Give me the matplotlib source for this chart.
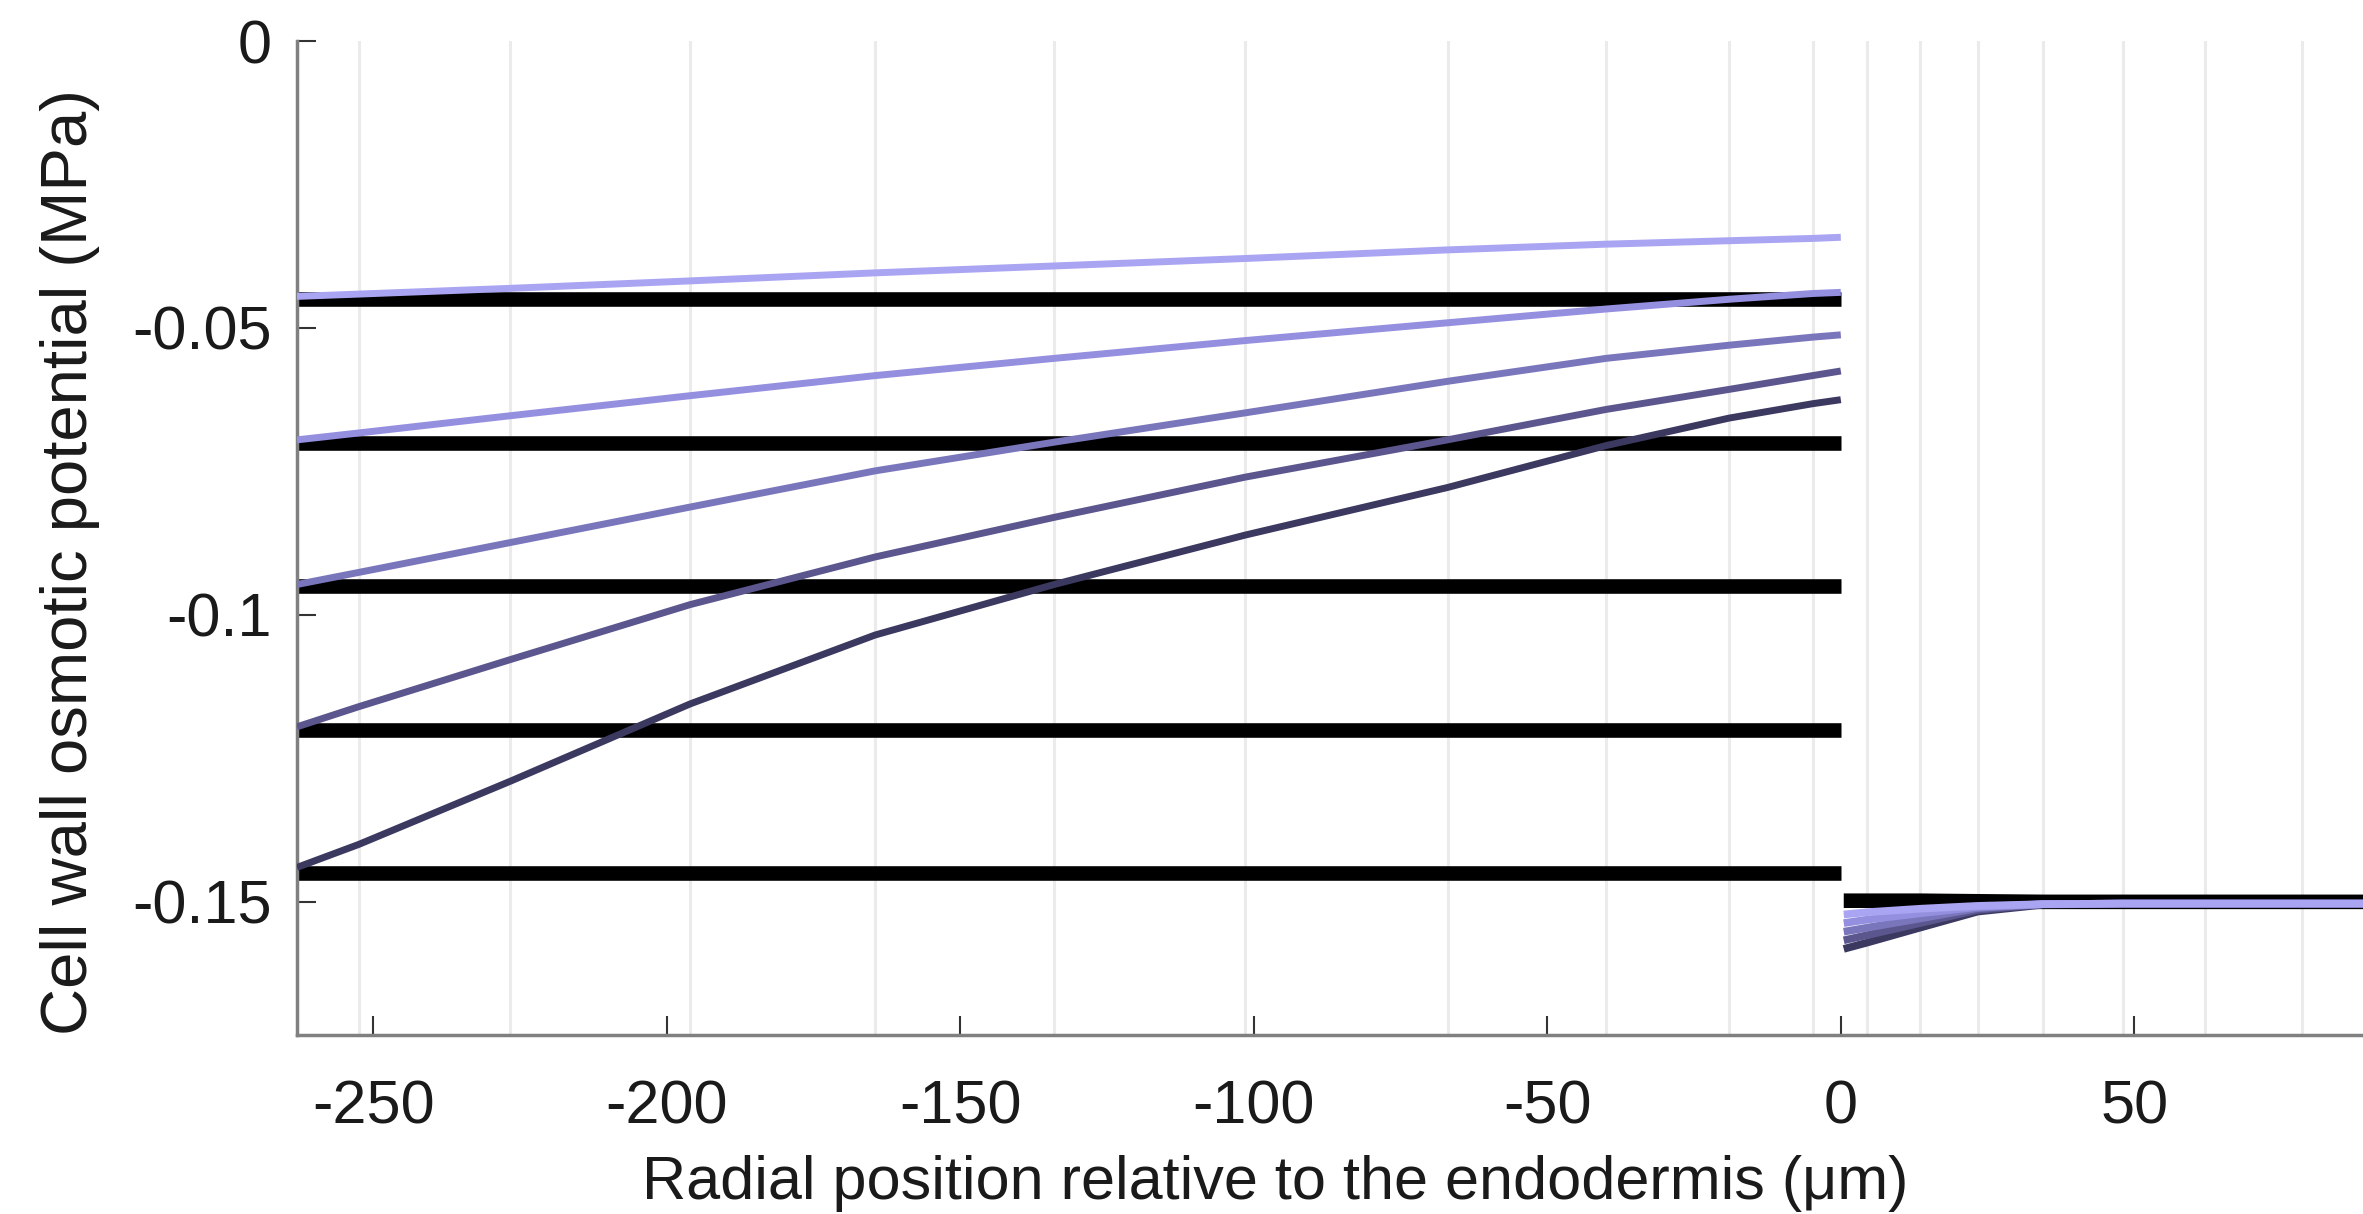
import matplotlib
matplotlib.use('Agg')
import matplotlib.pyplot as plt

plt.rcParams['font.family'] = ['Liberation Sans', 'DejaVu Sans']

# ---- data ----
# cortex positions (cell walls), um relative to endodermis
x_cortex = [-263, -252.5, -226.7, -196, -164.5, -134, -101.5, -67, -40, -19, -4.8, 0]
# black reference (constant) levels in cortex
black_levels = [-0.045, -0.070, -0.095, -0.120, -0.145]
# coloured simulated profiles in cortex
cortex_1 = [-0.0445, -0.0441, -0.0431, -0.0418, -0.0404, -0.0392, -0.0379, -0.0364, -0.0354, -0.0348, -0.0344, -0.0342]
cortex_2 = [-0.0695, -0.0683, -0.0653, -0.0618, -0.0583, -0.0553, -0.0522, -0.0491, -0.0467, -0.0450, -0.0440, -0.0438]
cortex_3 = [-0.0947, -0.0926, -0.0874, -0.0812, -0.0749, -0.0699, -0.0648, -0.0593, -0.0553, -0.0530, -0.0516, -0.0512]
cortex_4 = [-0.1195, -0.1160, -0.1078, -0.0982, -0.0899, -0.0830, -0.0760, -0.0695, -0.0642, -0.0607, -0.0583, -0.0575]
cortex_5 = [-0.1440, -0.1400, -0.1290, -0.1155, -0.1035, -0.0947, -0.0861, -0.0778, -0.0705, -0.0657, -0.0632, -0.0625]

# stele positions
x_stele = [0.5, 4.5, 13.5, 23.3, 34.5, 48, 62, 78.6, 100]
stele_black = [-0.1498, -0.1498, -0.1498, -0.1499, -0.1500, -0.1500, -0.1500, -0.1500, -0.1500]
stele_1 = [-0.1522, -0.1518, -0.1512, -0.1507, -0.1504, -0.1503, -0.1503, -0.1503, -0.1503]
stele_2 = [-0.1537, -0.1531, -0.1520, -0.1509, -0.1504, -0.1503, -0.1503, -0.1503, -0.1503]
stele_3 = [-0.1552, -0.1545, -0.1529, -0.1511, -0.1504, -0.1503, -0.1503, -0.1503, -0.1503]
stele_4 = [-0.1567, -0.1558, -0.1537, -0.1514, -0.1504, -0.1503, -0.1503, -0.1503, -0.1503]
stele_5 = [-0.1582, -0.1571, -0.1545, -0.1517, -0.1505, -0.1503, -0.1503, -0.1503, -0.1503]

# cell wall positions (vertical grid lines)
walls = [-252.5, -226.7, -196, -164.5, -134, -101.5, -67, -40, -19, -4.8,
         4.5, 13.5, 23.3, 34.5, 48, 62, 78.6]

x_ticks = [-250, -200, -150, -100, -50, 0, 50]
x_tick_labels = ['-250', '-200', '-150', '-100', '-50', '0', '50']
y_ticks = [0, -0.05, -0.1, -0.15]
y_tick_labels = ['0', '-0.05', '-0.1', '-0.15']

colors = ['#aaa5f2', '#958fe0', '#7a76bc', '#5b578e', '#3c3961']

# ---- figure ----
W, H, DPI = 2363, 1214, 100
fig = plt.figure(figsize=(W / DPI, H / DPI), dpi=DPI)

x0, x1 = -263, 120
left_px, bottom_px, top_px = 297, 1035, 41
px_per_unit = 5.87
ax_w = (x1 - x0) * px_per_unit / W
ax = fig.add_axes([left_px / W, (H - bottom_px) / H, ax_w, (bottom_px - top_px) / H])

for w in walls:
    ax.axvline(w, color='#ebebeb', lw=2.2, zorder=0)

for lv in black_levels:
    ax.plot([x_cortex[0], x_cortex[-1]], [lv, lv], color='black', lw=10.5,
            solid_capstyle='butt', zorder=2)
ax.plot(x_stele, stele_black, color='black', lw=10.5, solid_capstyle='butt', zorder=2)

cortex = [cortex_1, cortex_2, cortex_3, cortex_4, cortex_5]
stele = [stele_1, stele_2, stele_3, stele_4, stele_5]
for i in range(4, -1, -1):
    ax.plot(x_cortex, cortex[i], color=colors[i], lw=5, solid_capstyle='butt', zorder=3)
    ax.plot(x_stele, stele[i], color=colors[i], lw=5.5, solid_capstyle='butt', zorder=3)

ax.set_xlim(x0, x1)
ax.set_ylim(-0.1732, 0)

ax.set_xticks(x_ticks)
ax.set_xticklabels(x_tick_labels)
ax.set_yticks(y_ticks)
ax.set_yticklabels(y_tick_labels)

for s in ['top', 'right']:
    ax.spines[s].set_visible(False)
for s in ['left', 'bottom']:
    ax.spines[s].set_color('#808080')
    ax.spines[s].set_linewidth(2.5)

ax.tick_params(axis='both', direction='in', length=14, width=1.5, color='#333333',
               labelsize=44, labelcolor='#1a1a1a')
ax.tick_params(axis='x', pad=32)
ax.tick_params(axis='y', pad=18)

fig.text(1275 / W, (H - 1183) / H, 'Radial position relative to the endodermis (μm)',
         ha='center', va='center', fontsize=44, color='#1a1a1a')
fig.text(70 / W, (H - 562) / H, 'Cell wall osmotic potential (MPa)',
         ha='center', va='center', rotation=90, fontsize=47, color='#1a1a1a')

fig.savefig('out.png', dpi=DPI)
